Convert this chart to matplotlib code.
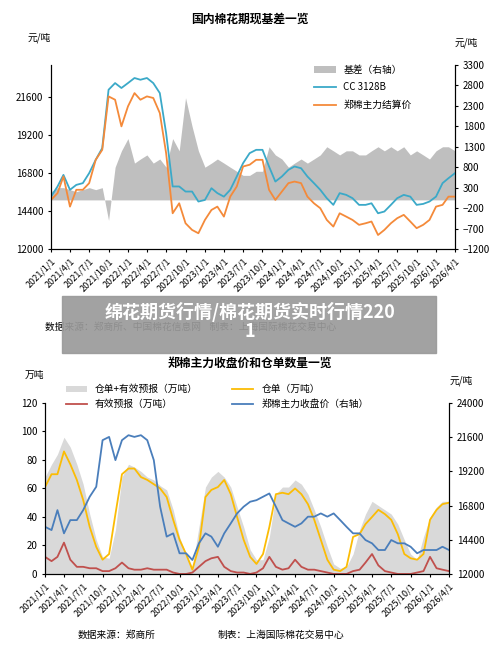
import matplotlib
matplotlib.use("Agg")
import matplotlib.pyplot as plt
import matplotlib.dates as mdates
import pandas as pd
import numpy as np

plt.rcParams['font.family'] = ['Noto Sans CJK SC', 'DejaVu Sans']

dates = pd.date_range("2021-01-01", "2026-04-01", freq="MS")
tick_dates = pd.date_range("2021-01-01", "2026-04-01", freq="3MS")
tick_labels = [f"{d.year}/{d.month}/1" for d in tick_dates]

# ---- top chart ----
cc3128b = [15300,15940,16670,15730,16040,16150,16780,17620,18360,22040,22460,22150,
           22460,22780,22670,22780,22460,21830,19300,15940,15940,15620,15620,14990,
           15090,15830,15520,15300,15730,16570,17410,18040,18250,18250,17200,16250,
           16570,16990,17200,17090,16570,16150,15730,15200,14780,15520,15410,15200,
           14780,14780,14880,14250,14360,14780,15200,15410,15300,14780,14840,14990,
           15300,16150,16460,16780]
zc_settle = [15090,15520,16570,14670,15730,15730,16150,17620,18250,21620,21410,19730,
             20990,21830,21410,21620,21520,20570,18040,14250,14880,13620,13200,12990,
             13830,14460,14670,14040,15300,15940,17200,17310,17620,17620,15730,15090,
             15620,16150,16250,16150,15300,14880,14570,13830,13410,14250,14040,13830,
             13520,13620,13730,12880,13200,13620,13940,14150,13730,13310,13520,13830,
             14670,14780,15300,15300]
basis = [200,300,300,250,200,250,300,250,300,-500,800,1200,
         1500,900,1000,1100,900,1000,800,1500,1200,2500,1800,1200,
         800,900,1000,900,800,700,600,600,700,700,1300,1100,
         1000,800,900,1000,900,1000,1100,1300,1200,1100,1200,1200,
         1100,1100,1200,1300,1200,1300,1200,1300,1100,1200,1100,1000,
         1200,1300,1300,1200]

# ---- bottom chart ----
total_wr = [68,77,84,96,89,77,63,42,24,12,11,31,
            68,77,75,72,68,66,62,59,45,26,14,5,
            33,61,68,72,68,61,47,33,17,10,10,26,
            56,61,61,66,63,56,45,33,19,7,4,5,
            14,31,42,51,48,45,42,35,24,14,10,26,
            40,47,51,51]
warehouse = [61,70,70,86,77,66,52,33,19,10,14,42,
             70,74,74,68,66,63,60,54,38,24,14,3,
             19,54,59,61,66,56,40,24,12,7,14,33,
             56,57,56,60,56,49,38,24,10,3,2,5,
             26,28,35,40,45,42,38,28,14,11,10,14,
             38,45,49,50]
forecast = [12,9,12,22,10,5,5,4,4,2,2,4,
            8,4,3,3,4,3,3,3,1,0,0,1,
            5,9,11,12,5,2,1,1,0,1,4,12,
            5,3,4,10,5,3,3,2,1,0,0,0,
            2,3,8,14,6,2,1,0,0,0,1,2,
            12,4,3,2]
zc_close = [15310,15080,16480,14850,15780,15780,16480,17420,18120,21390,21620,19990,
            21390,21740,21620,21740,21390,19990,16720,14620,14850,13450,13450,12980,
            14150,14850,14620,13910,14850,15550,16250,16720,17070,17180,17420,17650,
            16720,15780,15550,15310,15550,16020,16020,16250,16020,16250,15780,15310,
            14850,14850,14380,14150,13680,13680,14380,14150,14150,13910,13450,13680,
            13680,13680,13910,13680]

fig = plt.figure(figsize=(5, 6.5), dpi=100)
fs = 6.5

def style(ax, axr):
    ax.spines['top'].set_visible(False)
    axr.spines['top'].set_visible(False)
    ax.set_xticks(tick_dates)
    ax.set_xticklabels(tick_labels, rotation=45, ha='right', fontsize=fs, rotation_mode='anchor')
    ax.set_xlim(dates[0], dates[-1])
    ax.tick_params(axis='y', labelsize=fs + 0.5, length=2)
    axr.tick_params(axis='y', labelsize=fs + 0.5, length=2)
    ax.tick_params(axis='x', length=2)

# top
ax1 = fig.add_axes([0.102, 0.617, 0.808, 0.283])
ax1r = ax1.twinx()
ax1r.fill_between(dates, 0, basis, color='#bfbfbf', lw=0, label='基差（右轴）')
ax1r.set_ylim(-1200, 3300)
ax1r.set_yticks(np.arange(-1200, 3301, 500))
ax1.set_zorder(ax1r.get_zorder() + 1)
ax1.patch.set_visible(False)
ax1.plot(dates, cc3128b, color='#3ba9c8', lw=1.3, label='CC 3128B')
ax1.plot(dates, zc_settle, color='#f48a3a', lw=1.3, label='郑棉主力结算价')
ax1.set_ylim(12000, 23600)
ax1.set_yticks([12000, 14400, 16800, 19200, 21600])
style(ax1, ax1r)
h1, l1 = ax1r.get_legend_handles_labels()
h2, l2 = ax1.get_legend_handles_labels()
ax1.legend(h1 + h2, l1 + l2, loc='upper left', bbox_to_anchor=(0.63, 1.05), frameon=False,
           fontsize=fs + 0.5, handlelength=2.2, labelspacing=0.8)

fig.text(0.5, 0.965, '国内棉花期现基差一览', ha='center', fontsize=8.5, fontweight='bold')
fig.text(0.055, 0.937, '元/吨', fontsize=7)
fig.text(0.91, 0.93, '元/吨', fontsize=7)
fig.text(0.09, 0.492, '数据来源：郑商所、中国棉花信息网    制表：上海国际棉花交易中心', fontsize=7)

# bottom
ax2 = fig.add_axes([0.09, 0.117, 0.808, 0.263])
ax2r = ax2.twinx()
ax2.fill_between(dates, 0, total_wr, color='#d9d9d9', lw=0, label='仓单+有效预报（万吨）')
ax2.plot(dates, warehouse, color='#fbbc05', lw=1.3, label='仓单（万吨）')
ax2.plot(dates, forecast, color='#c0504d', lw=1.3, label='有效预报（万吨）')
ax2r.plot(dates, zc_close, color='#4a7ebb', lw=1.3, label='郑棉主力收盘价（右轴）')
ax2.set_ylim(0, 120)
ax2.set_yticks(range(0, 121, 20))
ax2r.set_ylim(12000, 24000)
ax2r.set_yticks([12000, 14400, 16800, 19200, 21600, 24000])
style(ax2, ax2r)
hh = ax2.get_legend_handles_labels()[0] + ax2r.get_legend_handles_labels()[0]
ll = ax2.get_legend_handles_labels()[1] + ax2r.get_legend_handles_labels()[1]
order = [0, 2, 1, 3]
ax2.legend([hh[i] for i in order], [ll[i] for i in order], loc='upper left', ncol=2,
           bbox_to_anchor=(0.03, 1.16), frameon=False, fontsize=fs + 0.5,
           handlelength=2.2, columnspacing=3.5)

fig.text(0.5, 0.435, '郑棉主力收盘价和仓单数量一览', ha='center', fontsize=8.5, fontweight='bold')
fig.text(0.05, 0.418, '万吨', fontsize=7)
fig.text(0.9, 0.41, '元/吨', fontsize=7)
fig.text(0.155, 0.018, '数据来源：郑商所', fontsize=7)
fig.text(0.435, 0.018, '制表：上海国际棉花交易中心', fontsize=7)

# overlay banner
fig.patches.append(plt.Rectangle((0.124, 0.457), 0.748, 0.088, transform=fig.transFigure,
                                 color='#9a9a9a', alpha=0.92, zorder=10))
fig.text(0.5, 0.535, '绵花期货行情/棉花期货实时行情220\n1', ha='center', va='top',
         fontsize=13, color='white', fontweight='bold', zorder=11, linespacing=0.95)

fig.savefig('out.png', dpi=100)
